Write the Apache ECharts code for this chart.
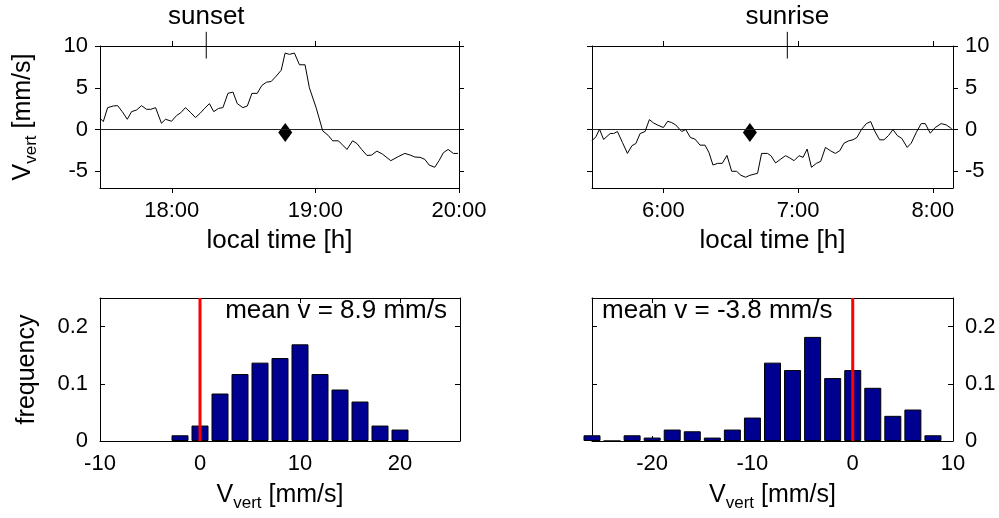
<!DOCTYPE html>
<html>
<head>
<meta charset="utf-8">
<script src="https://cdn.jsdelivr.net/npm/echarts@6/dist/echarts.min.js"></script>
<style>
html, body { margin: 0; padding: 0; background: #fff; }
#chart { width: 999px; height: 518px; }
</style>
</head>
<body>
<div id="chart"></div>
<script>
// evening series (sunset), time in hours / vertical velocity mm/s
const eveTime = [17.500, 17.523, 17.553, 17.593, 17.623, 17.655, 17.690, 17.720, 17.755, 17.789,
  17.824, 17.854, 17.887, 17.928, 17.956, 17.998, 18.033, 18.063, 18.095, 18.132,
  18.165, 18.197, 18.229, 18.262, 18.292, 18.326, 18.356, 18.391, 18.426, 18.456,
  18.495, 18.526, 18.558, 18.595, 18.627, 18.660, 18.692, 18.727, 18.762, 18.789,
  18.819, 18.854, 18.889, 18.928, 18.958, 19.005, 19.051, 19.090, 19.120, 19.160,
  19.220, 19.259, 19.289, 19.322, 19.359, 19.391, 19.428, 19.467, 19.525, 19.576,
  19.623, 19.660, 19.692, 19.729, 19.762, 19.792, 19.831, 19.861, 19.891, 19.924,
  19.961, 19.993]
const eveVel = [1.35, 0.95, 2.62, 2.82, 2.86, 2.14, 1.23, 2.14, 2.34, 2.86,
  2.42, 2.42, 2.62, 0.75, 1.23, 0.99, 1.67, 2.02, 2.62, 2.02,
  1.43, 1.94, 2.54, 3.10, 2.14, 2.54, 2.62, 4.33, 4.48, 3.10,
  2.62, 2.82, 4.33, 4.33, 5.28, 5.67, 5.75, 6.39, 7.10, 9.15,
  9.00, 9.15, 7.75, 7.75, 5.00, 2.62, -0.16, -0.71, -1.35, -1.35,
  -2.38, -1.35, -1.67, -2.38, -3.10, -3.06, -2.58, -2.94, -3.73, -3.25,
  -2.86, -3.06, -3.29, -3.33, -3.57, -4.25, -4.52, -3.73, -2.78, -2.38,
  -2.86, -2.86]

// morning series (sunrise)
const mornTime = [5.470, 5.499, 5.526, 5.556, 5.605, 5.630, 5.659, 5.696, 5.733, 5.766,
  5.796, 5.827, 5.864, 5.896, 5.926, 5.959, 6.000, 6.032, 6.062, 6.091,
  6.136, 6.166, 6.200, 6.235, 6.272, 6.309, 6.339, 6.368, 6.403, 6.437,
  6.472, 6.507, 6.543, 6.576, 6.610, 6.642, 6.699, 6.729, 6.773, 6.798,
  6.833, 6.872, 6.907, 6.939, 6.970, 7.007, 7.037, 7.067, 7.099, 7.136,
  7.168, 7.203, 7.240, 7.277, 7.309, 7.341, 7.376, 7.407, 7.437, 7.470,
  7.507, 7.539, 7.568, 7.605, 7.637, 7.672, 7.704, 7.736, 7.770, 7.810,
  7.840, 7.877, 7.914, 7.944, 7.981, 8.018, 8.062, 8.099, 8.140]
const mornVel = [-1.35, -0.87, 0.04, -1.19, -0.48, -0.48, -0.24, -1.55, -2.86, -1.94,
  -1.67, -0.48, -0.24, 1.19, 0.79, 0.52, 0.24, 0.99, 0.83, 0.56,
  -0.24, 0.00, -0.95, -1.15, -1.87, -1.87, -2.78, -4.25, -4.05, -4.05,
  -3.10, -5.00, -5.00, -5.48, -5.71, -5.48, -5.24, -2.86, -2.86, -3.13,
  -4.00, -3.53, -3.13, -3.41, -3.73, -3.13, -3.33, -2.34, -4.52, -4.05,
  -3.81, -2.14, -2.54, -2.86, -2.54, -1.63, -1.35, -1.23, -0.95, 0.00,
  0.71, 0.95, -0.16, -1.23, -1.23, -0.71, 0.00, -0.71, -1.07, -2.14,
  -1.63, -0.36, 0.71, 0.71, -0.44, 0.24, 0.71, 0.56, 0.10]

// event markers and mean points
const sunsetT = 18.24
const sunriseT = 6.92
const eveMean = [18.79, -0.36]
const mornMean = [6.642, -0.36]

// histograms (bin centres, frequency)
const eveBins = [-2, 0, 2, 4, 6, 8, 10, 12, 14, 16, 18, 20]
const eveFreq = [0.010, 0.027, 0.083, 0.117, 0.137, 0.145, 0.169, 0.117, 0.090, 0.069, 0.027, 0.020]
const mornBins = [-26, -24, -22, -20, -18, -16, -14, -12, -10, -8, -6, -4, -2, 0, 2, 4, 6, 8]
const mornFreq = [0.010, 0, 0.010, 0.006, 0.020, 0.017, 0.006, 0.020, 0.041, 0.137,
  0.124, 0.182, 0.110, 0.124, 0.093, 0.044, 0.055, 0.010]

const eveMeanText = 'mean v = 8.9 mm/s'
const mornMeanText = 'mean v = -3.8 mm/s'

// ticks
const eveTicks = [18, 19, 20]
const mornTicks = [6, 7, 8]
const velTicks = [-5, 0, 5, 10]
const freqTicks = [0, 0.1, 0.2]
const eveHistTicks = [-10, 0, 10, 20]
const mornHistTicks = [-20, -10, 0, 10]

const FONT = 'Liberation Sans, Arial, sans-serif'
const zip = (a, b) => a.map((v, i) => [v, b[i]])

const nameRich = {
  a: { fontSize: 25, fontFamily: FONT, color: '#000' },
  s: { fontSize: 17, fontFamily: FONT, color: '#000', padding: [16, 0, 0, 0] }
}

function axis(gridIndex, position, min, max, ticks, showLabel, inside, extra) {
  return Object.assign({
    type: 'value', gridIndex, position, min, max,
    axisLine: { show: true, onZero: false, lineStyle: { color: '#000', width: 1 } },
    axisTick: { show: true, inside, length: 5, customValues: ticks, lineStyle: { color: '#000', width: 1 } },
    axisLabel: { show: showLabel, customValues: ticks, margin: 12, color: '#000', fontSize: 22, fontFamily: FONT },
    splitLine: { show: false }
  }, extra || {})
}

const hourFmt = v => v + ':00'
const velName = {
  name: '{a|V}{s|vert}{a| [mm/s]}', nameLocation: 'middle', nameRotate: 90, nameGap: 60,
  nameTextStyle: { rich: nameRich }
}
const vertName = {
  name: '{a|V}{s|vert}{a| [mm/s]}', nameLocation: 'middle', nameGap: 38,
  nameTextStyle: { rich: nameRich }
}
const timeName = {
  name: 'local time [h]', nameLocation: 'middle', nameGap: 40,
  nameTextStyle: { fontSize: 26, fontFamily: FONT, color: '#000' }
}

const xAxis = [
  axis(0, 'bottom', 17.5, 20, eveTicks, true, false, timeName),
  axis(0, 'top', 17.5, 20, eveTicks, false, false),
  axis(1, 'bottom', 5.47, 8.15, mornTicks, true, false, timeName),
  axis(1, 'top', 5.47, 8.15, mornTicks, false, false),
  axis(2, 'bottom', -10, 26, eveHistTicks, true, true, vertName),
  axis(2, 'top', -10, 26, eveHistTicks, false, true),
  axis(3, 'bottom', -26, 10, mornHistTicks, true, true, vertName),
  axis(3, 'top', -26, 10, mornHistTicks, false, true)
]
xAxis[0].axisLabel.formatter = hourFmt
xAxis[2].axisLabel.formatter = hourFmt

const yAxis = [
  axis(0, 'left', -7, 10, velTicks, true, false, velName),
  axis(0, 'right', -7, 10, velTicks, false, false),
  axis(1, 'left', -7, 10, velTicks, false, false),
  axis(1, 'right', -7, 10, velTicks, true, false),
  axis(2, 'left', 0, 0.25, freqTicks, true, true, {
    name: 'frequency', nameLocation: 'middle', nameRotate: 90, nameGap: 60,
    nameTextStyle: { fontSize: 25, fontFamily: FONT, color: '#000' }
  }),
  axis(2, 'right', 0, 0.25, freqTicks, false, true),
  axis(3, 'left', 0, 0.25, freqTicks, false, true),
  axis(3, 'right', 0, 0.25, freqTicks, true, true)
]

const lineStyle = { color: '#000', width: 1 }
function timeSeries(ax, t, v, tMin, tMax, evT, evLabel, mean) {
  return [
    { type: 'line', xAxisIndex: ax, yAxisIndex: ax, data: [[tMin, 0], [tMax, 0]],
      symbol: 'none', lineStyle: { color: '#222', width: 1 }, silent: true },
    { type: 'line', xAxisIndex: ax, yAxisIndex: ax, data: zip(t, v),
      symbol: 'none', lineStyle },
    { type: 'line', xAxisIndex: ax, yAxisIndex: ax, data: [[evT, 8.5], [evT, 11.7]],
      symbol: 'none', lineStyle, clip: false },
    { type: 'scatter', xAxisIndex: ax, yAxisIndex: ax, data: [[evT, 11.7]], symbolSize: 0, clip: false,
      itemStyle: { opacity: 1 },
      label: { show: true, position: 'top', distance: 2, formatter: evLabel,
        color: '#000', fontSize: 26, fontFamily: FONT } },
    { type: 'scatter', xAxisIndex: ax, yAxisIndex: ax, data: [mean], symbol: 'diamond',
      symbolSize: [14, 19], itemStyle: { color: '#000', opacity: 1 } }
  ]
}

function histSeries(ax, bins, freq, textPos, text, align) {
  return [
    { type: 'bar', xAxisIndex: ax, yAxisIndex: ax, data: zip(bins, freq), barWidth: 17,
      itemStyle: { color: '#000090', borderColor: '#000', borderWidth: 1 } },
    { type: 'line', xAxisIndex: ax, yAxisIndex: ax, data: [[0, 0], [0, 0.25]],
      symbol: 'none', lineStyle: { color: '#ff0000', width: 3 }, z: 5 },
    { type: 'scatter', xAxisIndex: ax, yAxisIndex: ax, data: [textPos], symbolSize: 0,
      itemStyle: { opacity: 1 },
      label: { show: true, position: [0, 0], align, verticalAlign: 'top', formatter: text,
        color: '#000', fontSize: 26, fontFamily: FONT } }
  ]
}

const chart = echarts.init(document.getElementById('chart'))
chart.setOption({
  animation: false,
  backgroundColor: '#fff',
  grid: [
    { left: 100, top: 46, width: 359, height: 142, outerBoundsMode: 'none' },
    { left: 592, top: 46, width: 361, height: 142, outerBoundsMode: 'none' },
    { left: 100, top: 298, width: 360, height: 143, outerBoundsMode: 'none' },
    { left: 592, top: 298, width: 361, height: 143, outerBoundsMode: 'none' }
  ],
  xAxis,
  yAxis: yAxis,
  series: [
    ...timeSeries(0, eveTime, eveVel, 17.5, 20, sunsetT, 'sunset', eveMean),
    ...timeSeries(2, mornTime, mornVel, 5.47, 8.15, sunriseT, 'sunrise', mornMean).map(s => Object.assign(s, { xAxisIndex: 2, yAxisIndex: 3 })),
    ...histSeries(4, eveBins, eveFreq, [24.7, 0.25], eveMeanText, 'right'),
    ...histSeries(6, mornBins, mornFreq, [-25, 0.25], mornMeanText, 'left').map(s => Object.assign(s, { xAxisIndex: 6, yAxisIndex: 7 }))
  ]
})
</script>
</body>
</html>
